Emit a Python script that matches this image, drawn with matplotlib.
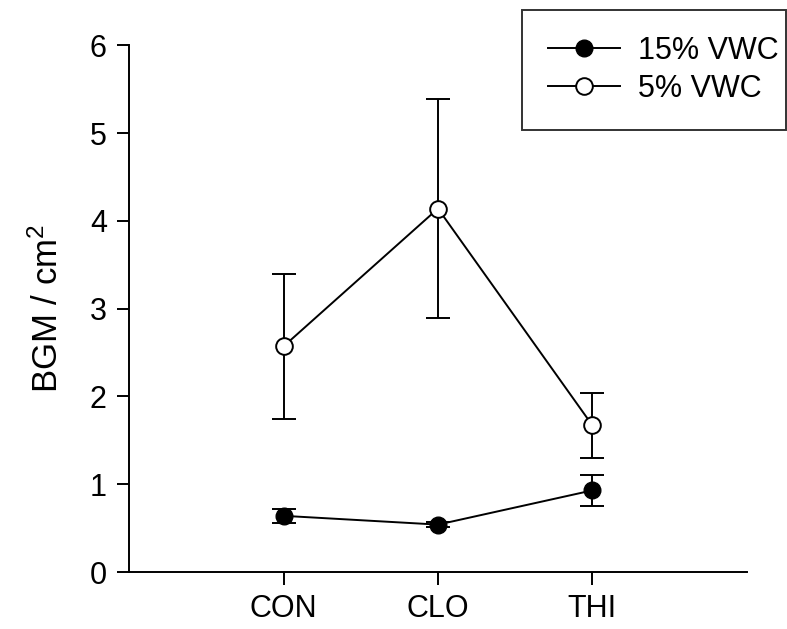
import numpy as np
import matplotlib.pyplot as plt

plt.rcParams['font.family'] = ['Liberation Sans', 'DejaVu Sans']
plt.rcParams['mathtext.default'] = 'regular'

treatments = ['CON', 'CLO', 'THI']
vwc15_mean = [0.64, 0.54, 0.93]
vwc15_err = [0.08, 0.03, 0.18]
vwc5_mean = [2.57, 4.14, 1.67]
vwc5_err = [0.83, 1.25, 0.37]

x = np.arange(1, len(treatments) + 1)

fig = plt.figure(figsize=(7.87, 6.29), dpi=100)
ax = fig.add_axes([0.164, 0.0906, 0.785, 0.8374])

ax.errorbar(x, vwc15_mean, yerr=vwc15_err, color='black', lw=1.4,
            marker='o', markersize=15, markerfacecolor='black',
            markeredgecolor='black', capsize=8.5, capthick=1.4,
            elinewidth=1.4, label='15% VWC', zorder=3)
ax.errorbar(x, vwc5_mean, yerr=vwc5_err, color='black', lw=1.4,
            marker='o', markersize=15, markerfacecolor='white',
            markeredgecolor='black', markeredgewidth=1.4, capsize=8.5,
            capthick=1.4, elinewidth=1.4, label='5% VWC', zorder=3)

ax.set_xlim(0, 4)
ax.set_ylim(0, 6)
ax.set_xticks(x)
ax.set_xticklabels(treatments)
ax.set_yticks(range(7))
for side in ['top', 'right']:
    ax.spines[side].set_visible(False)
for side in ['left', 'bottom']:
    ax.spines[side].set_linewidth(1.4)
ax.tick_params(direction='out', length=9, width=1.4, labelsize=22, pad=7)
ax.set_ylabel('BGM / cm$^2$', fontsize=25, labelpad=18)

handles, labels = ax.get_legend_handles_labels()
handles = [h[0] for h in handles]
for h in handles:
    h.set_markersize(12)
leg = fig.legend(handles, labels, loc='upper left',
                 bbox_to_anchor=(522 / 787, 1 - 10 / 629, 264 / 787, 0),
                 mode='expand', fontsize=22, frameon=True, fancybox=False,
                 handlelength=2.35, handletextpad=0.6, borderpad=0.85,
                 labelspacing=0.25, borderaxespad=0)
leg.get_frame().set_edgecolor('black')
leg.get_frame().set_linewidth(1.4)

plt.savefig('out.png', dpi=100)
